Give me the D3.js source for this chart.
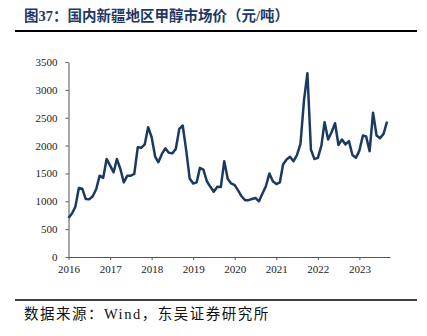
<!DOCTYPE html>
<html lang="zh">
<head>
<meta charset="UTF-8">
<title>国内新疆地区甲醇市场价</title>
<script src="https://d3js.org/d3.v7.min.js"></script>
<style>
    body { margin: 0; background: #fff; }
    .tick text { font-family: "Liberation Serif", "Times New Roman", serif; font-size: 11px; fill: #222; }
    .axis path, .axis line { stroke: #555; }
</style>
</head>
<body>
<svg id="chart" width="427" height="336"></svg>
<script>
// monthly prices from Jan 2016, yuan/ton
const startYear = 2016;
const prices = [
    700, 780, 900, 1240, 1225, 1040, 1035, 1090, 1220, 1460, 1420, 1760,
    1640, 1520, 1760, 1580, 1340, 1460, 1460, 1490, 1970, 1960, 2020, 2330,
    2150, 1800, 1700, 1850, 1950, 1870, 1860, 1940, 2300, 2360, 1910, 1410,
    1320, 1340, 1600, 1570, 1360, 1260, 1170, 1260, 1255, 1720, 1400, 1320,
    1290, 1190, 1090, 1020, 1020, 1040, 1060, 1000, 1140, 1270, 1500, 1360,
    1310, 1340, 1660, 1750, 1800, 1720, 1830, 2030, 2810, 3300, 1930, 1760,
    1780, 2000, 2420, 2110, 2240, 2400, 2010, 2110, 2020, 2080, 1830, 1780,
    1910, 2180, 2165, 1900, 2590, 2180, 2130, 2210, 2430
];
const yTicks = [0, 500, 1000, 1500, 2000, 2500, 3000, 3500];
const yearTicks = [2016, 2017, 2018, 2019, 2020, 2021, 2022, 2023];

const svg = d3.select("#chart");

const series = prices.map((v, i) => ({date: new Date(startYear, i, 1), value: v}));

const x = d3.scaleTime()
    .domain([new Date(2016, 0, 1), new Date(2023, 8, 27)])
    .range([68.5, 390]);
const y = d3.scaleLinear()
    .domain([0, 3500])
    .range([257, 62]);

// title
svg.append("text")
    .attr("x", 24).attr("y", 21)
    .attr("font-family", "'Liberation Serif', 'Noto Sans CJK SC', serif")
    .attr("font-weight", "bold")
    .attr("font-size", 14.5)
    .attr("fill", "#1f3864")
    .text("图37：国内新疆地区甲醇市场价（元/吨）");

svg.append("line")
    .attr("x1", 15).attr("x2", 417).attr("y1", 31).attr("y2", 31)
    .attr("stroke", "#000").attr("stroke-width", 1.8);

// axes
svg.append("g")
    .attr("class", "axis")
    .attr("transform", "translate(68.5,0)")
    .call(d3.axisLeft(y).tickValues(yTicks).tickFormat(d3.format("d"))
        .tickSize(3).tickSizeOuter(0).tickPadding(8));

svg.append("g")
    .attr("class", "axis")
    .attr("transform", "translate(0,257)")
    .call(d3.axisBottom(x)
        .tickValues(yearTicks.map(yr => new Date(yr, 0, 1)))
        .tickFormat(d3.timeFormat("%Y"))
        .tickSize(3).tickSizeOuter(0).tickPadding(5));

// price line
svg.append("path")
    .datum(series)
    .attr("fill", "none")
    .attr("stroke", "#1b3a63")
    .attr("stroke-width", 2.5)
    .attr("stroke-linejoin", "round")
    .attr("d", d3.line().x(d => x(d.date)).y(d => y(d.value)));

// source note
svg.append("line")
    .attr("x1", 15).attr("x2", 417).attr("y1", 300).attr("y2", 300)
    .attr("stroke", "#000").attr("stroke-width", 1.5);

svg.append("text")
    .attr("x", 24).attr("y", 319)
    .attr("font-family", "'Liberation Serif', 'Noto Sans CJK SC', serif")
    .attr("font-size", 14.5)
    .attr("letter-spacing", 1.5)
    .attr("fill", "#111")
    .text("数据来源：Wind，东吴证券研究所");
</script>
</body>
</html>
